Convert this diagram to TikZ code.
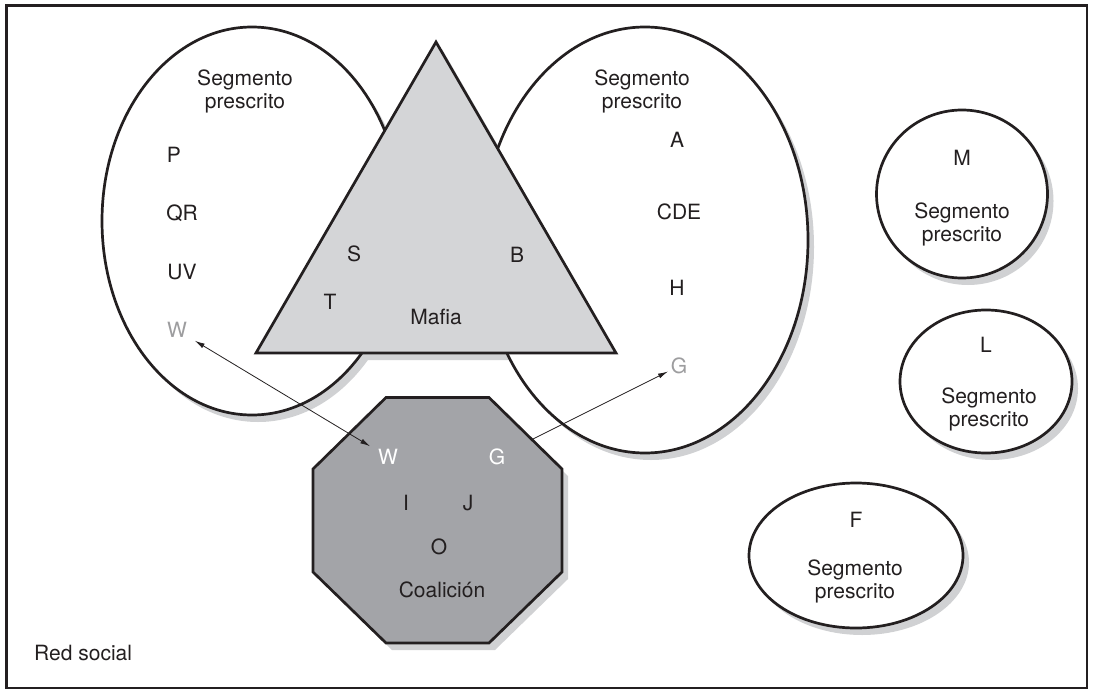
\documentclass[tikz,border=0pt]{standalone}
\usepackage{fontspec}
\setmainfont{TeX Gyre Heros}
\usetikzlibrary{arrows.meta}
\definecolor{ink}{HTML}{231F20}
\definecolor{shade}{HTML}{D0D1D3}
\definecolor{trifill}{HTML}{D4D5D7}
\definecolor{octfill}{HTML}{A3A4A8}
\definecolor{ghost}{HTML}{9D9D9F}
\begin{document}
\begin{tikzpicture}[x=1pt,y=-1pt,
  outline/.style={draw=ink, line width=2.7pt},
  shadowfill/.style={fill=shade, draw=none},
  lbl/.style={font=\fontsize{21}{23}\selectfont, text=ink, inner sep=0pt, align=center},
  ghostlbl/.style={lbl, text=ghost},
  whitelbl/.style={lbl, text=white},
  conn/.style={draw=ink, line width=0.8pt},
  tipstyle/.style={-{Latex[length=10pt,width=5pt]}}]
\useasboundingbox (0,0) rectangle (1099,690);
% frame
\draw[draw=ink, line width=2.6pt] (6.5,5.5) rectangle (1087,688);
% shadows
\begin{scope}[shift={(6,7)}]
  \path[shadowfill] (252,221) ellipse [x radius=150pt, y radius=194pt];
  \path[shadowfill] (645,240) ellipse [x radius=163pt, y radius=213pt];
  \path[shadowfill] (436,42) -- (616,353) -- (256,353) -- cycle;
  \path[shadowfill] (386,397.5) -- (489,397.5) -- (562,469) -- (562,572) -- (489,643) -- (386,643) -- (313,572) -- (313,469) -- cycle;
  \path[shadowfill] (962,194) ellipse [x radius=85.5pt, y radius=84pt];
  \path[shadowfill] (986,381.5) ellipse [x radius=86pt, y radius=71.5pt];
  \path[shadowfill] (856,555.5) ellipse [x radius=107pt, y radius=72.5pt];
\end{scope}
% shapes
\path[outline, fill=white] (252,221) ellipse [x radius=150pt, y radius=194pt];
\path[outline, fill=white] (645,240) ellipse [x radius=163pt, y radius=213pt];
\path[outline, fill=trifill] (436,42) -- (616,353) -- (256,353) -- cycle;
\path[outline, fill=octfill] (386,397.5) -- (489,397.5) -- (562,469) -- (562,572) -- (489,643) -- (386,643) -- (313,572) -- (313,469) -- cycle;
\path[outline, fill=white] (962,194) ellipse [x radius=85.5pt, y radius=84pt];
\path[outline, fill=white] (986,381.5) ellipse [x radius=86pt, y radius=71.5pt];
\path[outline, fill=white] (856,555.5) ellipse [x radius=107pt, y radius=72.5pt];
% left segment labels
\node[lbl] (segLeft) at (245,91) {Segmento\\prescrito};
\node[lbl] (P) at (174,155) {P};
\node[lbl] (QR) at (182,213) {QR};
\node[lbl] (UV) at (182,272) {UV};
\node[ghostlbl] (Wg) at (177,330) {W};
% right segment labels
\node[lbl] (segRight) at (642,91) {Segmento\\prescrito};
\node[lbl] (A) at (677,140) {A};
\node[lbl] (CDE) at (679,212) {CDE};
\node[lbl] (H) at (677,288) {H};
\node[ghostlbl] (Gg) at (679,366) {G};
% mafia
\node[lbl] (S) at (354,254) {S};
\node[lbl] (B) at (517,255) {B};
\node[lbl] (T) at (330,302) {T};
\node[lbl] (mafia) at (436,317) {Mafia};
% coalition
\node[whitelbl] (Wc) at (388,457) {W};
\node[whitelbl] (Gc) at (497,457) {G};
\node[lbl] (I) at (406,503) {I};
\node[lbl] (J) at (468,503) {J};
\node[lbl] (O) at (439,547) {O};
\node[lbl] (coal) at (442,589.5) {Coalición};
% small segments
\node[lbl] (M) at (962,158) {M};
\node[lbl] (segM) at (962,224) {Segmento\\prescrito};
\node[lbl] (L) at (986,344.5) {L};
\node[lbl] (segL) at (989,409) {Segmento\\prescrito};
\node[lbl] (F) at (856,519.5) {F};
\node[lbl] (segF) at (855,581) {Segmento\\prescrito};
% network label
\node[lbl, anchor=west] (red) at (34,653) {Red social};
% connectors
\draw[conn, {Latex[length=10pt,width=5pt]}-{Latex[length=10pt,width=5pt]}, shorten <=9pt, shorten >=9pt] (Wg) -- (Wc);
\draw[conn, tipstyle, shorten <=31pt, shorten >=3pt] (Gc) -- (Gg);
\end{tikzpicture}
\end{document}
